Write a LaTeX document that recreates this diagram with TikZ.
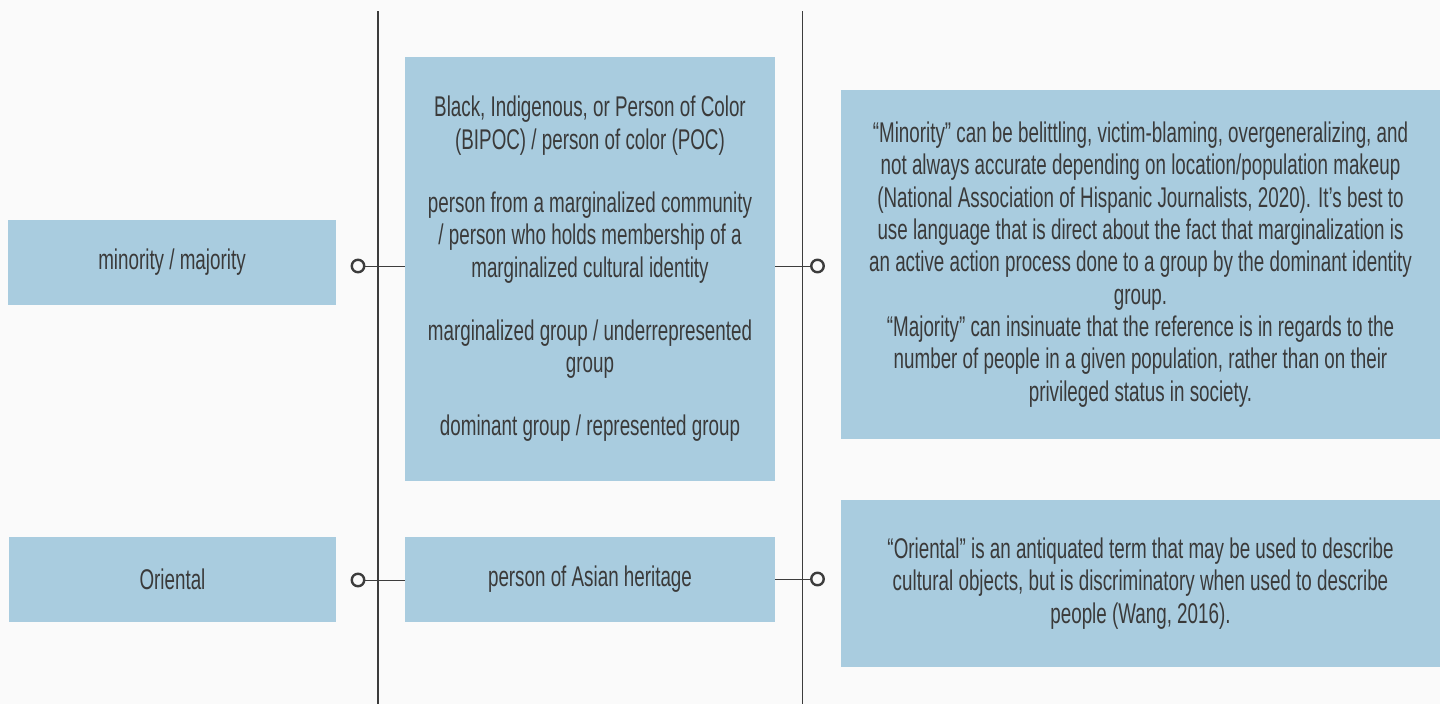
\documentclass[tikz,border=0pt]{standalone}
\usepackage{fontspec}
\setmainfont{Liberation Sans}[FakeStretch=0.66]
\usepackage{xcolor}
\definecolor{boxblue}{HTML}{A9CCDF}
\definecolor{pagegray}{HTML}{FAFAFA}
\definecolor{inkgray}{HTML}{3A3A3A}
\definecolor{linegray}{HTML}{3C3C3C}
\usetikzlibrary{positioning}

\begin{document}
\begin{tikzpicture}[x=1pt,y=-1pt,
  termbox/.style={fill=boxblue,inner sep=0pt,align=center,text=inkgray,
    font=\fontsize{28.5}{32.3}\selectfont},
  knob/.style={circle,draw=linegray,line width=2.4pt,fill=pagegray,minimum size=12.5pt,inner sep=0pt},
  stem/.style={linegray,line width=1pt},
  rail/.style={linegray,line width=1.4pt}]
\fill[pagegray] (0,0) rectangle (1440,704);
\useasboundingbox (0,0) rectangle (1440,704);
\coordinate (railA top) at (378,11);
\coordinate (railA bot) at (378,704);
\coordinate (railB top) at (802.5,11);
\coordinate (railB bot) at (802.5,704);
\draw[rail] (railA top) -- (railA bot);
\draw[rail] (railB top) -- (railB bot);
\node[termbox,minimum width=328pt,minimum height=85pt] (old1) at (172,262.5) {minority / majority};
\node[termbox,minimum width=327pt,minimum height=85pt] (old2) at (172.5,579.5) {Oriental};
\node[termbox,minimum width=370pt,minimum height=424pt] (new1) at (590,269) {Black, Indigenous, or Person of Color\\
(BIPOC) / person of color (POC)\\[31pt]
person from a marginalized community\\
/ person who holds membership of a\\
marginalized cultural identity\\[31pt]
marginalized group / underrepresented\\
group\\[31pt]
dominant group / represented group};
\node[termbox,minimum width=370pt,minimum height=85pt] (new2) at (590,579.5) {person of Asian heritage};
\node[termbox,minimum width=599pt,minimum height=349pt] (why1) at (1140.5,264.5) {“Minority” can be belittling, victim-blaming, overgeneralizing, and\\
not always accurate depending on location/population makeup\\
(National Association of Hispanic Journalists, 2020). It’s best to\\
use language that is direct about the fact that marginalization is\\
an active action process done to a group by the dominant identity\\
group.\\
“Majority” can insinuate that the reference is in regards to the\\
number of people in a given population, rather than on their\\
privileged status in society.};
\node[termbox,minimum width=599pt,minimum height=167pt] (why2) at (1140.5,583.5) {“Oriental” is an antiquated term that may be used to describe\\
cultural objects, but is discriminatory when used to describe\\
people (Wang, 2016).};
\node[knob] (kl1) at (358,266) {};
\node[knob] (kl2) at (358,580) {};
\node[knob] (kr1) at (817.5,266) {};
\node[knob] (kr2) at (817.5,579) {};
\draw[stem] (kl1) -- (kl1 -| new1.west);
\draw[stem] (kl2) -- (kl2 -| new2.west);
\draw[stem] (kr1 -| new1.east) -- (kr1);
\draw[stem] (kr2 -| new2.east) -- (kr2);
\end{tikzpicture}
\end{document}
